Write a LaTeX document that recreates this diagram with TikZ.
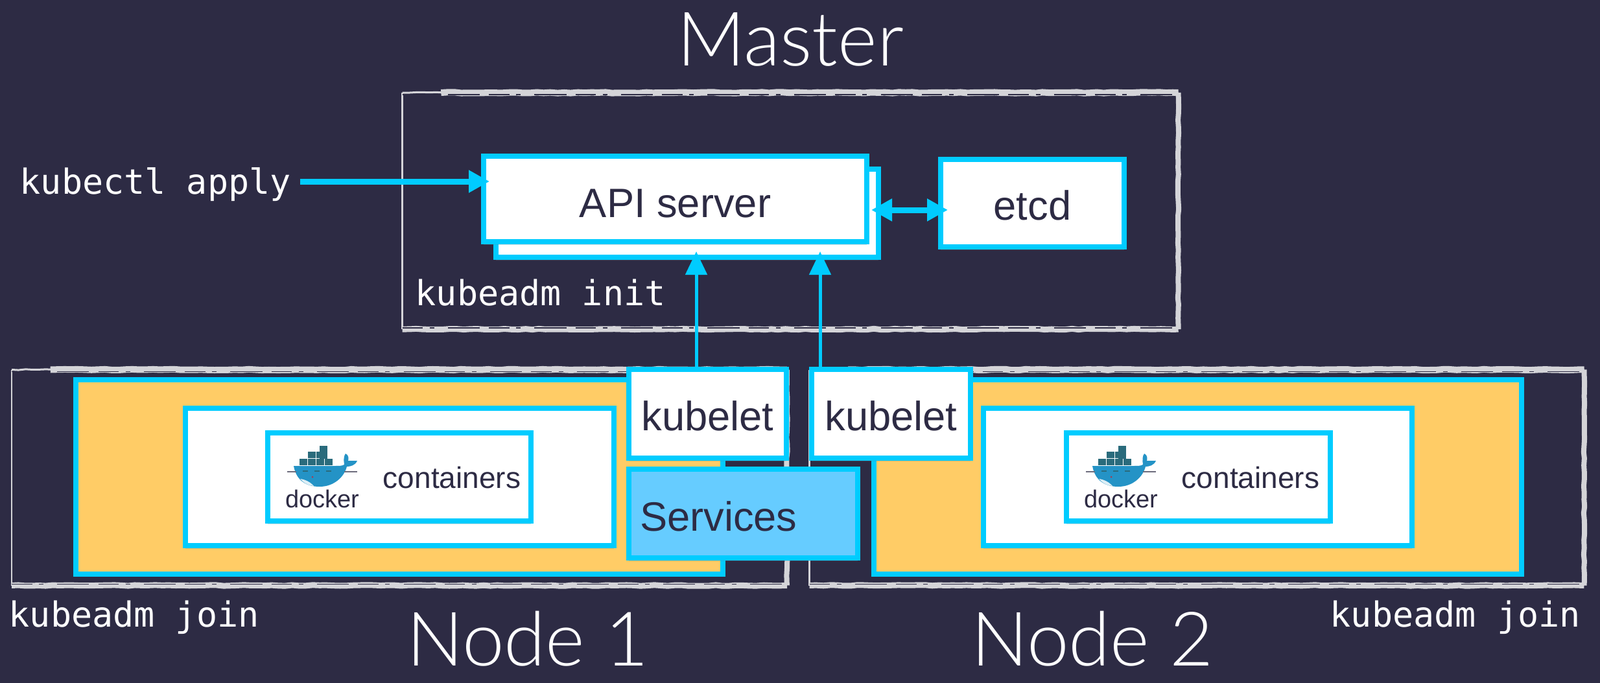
\documentclass[tikz,border=0pt]{standalone}
\usepackage{fontspec}
\setmainfont{Liberation Sans}
\setmonofont{DejaVu Sans Mono}
\newfontfamily\titlefont{Lato Light}
\usetikzlibrary{arrows.meta,shadows,calc,decorations.pathmorphing}
\definecolor{kubebg}{HTML}{2D2B44}
\definecolor{kubeline}{HTML}{00CCFF}
\definecolor{kubeyellow}{HTML}{FFCC66}
\definecolor{kubesky}{HTML}{66CCFF}
\definecolor{chalk}{HTML}{D4D4D8}
\definecolor{dockerteal}{HTML}{2A6B7C}
\definecolor{dockerblue}{HTML}{2493C6}
\tikzset{
  kubebox/.style={draw=kubeline,line width=.08cm,fill=white,text=kubebg,font=\fontsize{18}{18}\selectfont,
    inner sep=0pt,text height=.52cm,drop shadow={shadow xshift=0cm,shadow yshift=-.05cm,opacity=.25}},
  flatbox/.style={draw=kubeline,line width=.08cm,fill=kubeyellow,inner sep=0pt},
  chalkframe/.style={inner sep=0pt,outer sep=0pt},
  chalkline/.style={draw=chalk,decorate,decoration={random steps,segment length=3pt,amplitude=.2pt}},
  chalkscratch/.style={draw=kubebg,line width=.012cm,dash pattern=on 9pt off 3pt on 2pt off 6pt on 14pt off 4pt},
  kubearrow/.style={-{Triangle[length=.32cm,width=.33cm]},draw=kubeline,line width=.09cm},
  kubelink/.style={-{Triangle[length=.36cm,width=.33cm]},draw=kubeline,line width=.05cm},
  monotxt/.style={text=white,font=\ttfamily\fontsize{15.2}{15}\selectfont,inner sep=0pt,anchor=base west},
  titletxt/.style={text=white,font=\titlefont\fontsize{33}{33}\selectfont,inner sep=0pt,anchor=base},
}
\newcommand{\chalkbox}[5]{
\node[chalkframe,minimum width=#4cm,minimum height=#5cm] (#1) at (#2,#3) {};
\draw[chalkline,line width=.03cm] (#1.north west) -- (#1.north east);
\draw[chalkline,line width=.1cm] ($(#1.north west)!.05!(#1.north east)$) -- (#1.north east);
\draw[chalkline,line width=.09cm] (#1.south west) -- (#1.south east);
\draw[chalkline,line width=.08cm] (#1.north east) -- (#1.south east);
\draw[draw=chalk,line width=.025cm] (#1.north west) -- (#1.south west);
\draw[chalkscratch] ($(#1.north west)+(0,.03)$) -- ($(#1.north east)+(0,.03)$);
\draw[chalkscratch] ($(#1.south west)+(0,-.02)$) -- ($(#1.south east)+(0,-.02)$);
}
\newcommand{\dockerlogo}[3]{
\begin{scope}[shift={(#2,#3)}]
\foreach \x in {.19,.32,.45,.58} \fill[dockerteal] (\x,-.20) rectangle +(.12,.10);
\foreach \x in {.32,.45} \fill[dockerteal] (\x,-.31) rectangle +(.12,.10);
\fill[dockerteal] (.50,-.40) rectangle +(.12,.20);
\fill[dockerblue] (.10,-.09) -- (.74,-.09) .. controls (.80,-.09) and (.85,-.09) .. (.88,-.11)
  .. controls (.87,-.18) and (.87,-.24) .. (.90,-.28) .. controls (.95,-.26) and (.95,-.20) .. (.94,-.17)
  -- (1.08,-.17) .. controls (1.05,-.10) and (.98,-.08) .. (.92,-.08)
  .. controls (.88,.08) and (.72,.23) .. (.50,.23) .. controls (.30,.23) and (.14,.14) .. (.10,-.09) -- cycle;
\fill[white!85!dockerblue] (.20,.11) .. controls (.28,.12) and (.36,.16) .. (.41,.22) .. controls (.32,.21) and (.25,.17) .. (.20,.11) -- cycle;
\fill[red!60!dockerblue] (.39,.08) circle (.015);
\draw[kubebg!70,line width=.012cm] (0,0) -- (.14,0);
\draw[kubebg!70,line width=.012cm] (.88,0) -- (1.08,0);
\foreach \x in {.24,.42,.60} \draw[dockerteal,line width=.025cm] (\x,-.01) -- +(.08,0);
\node[inner sep=0pt,anchor=base,text=kubebg,font=\fontsize{10.8}{11}\selectfont] (#1) at (.54,.55) {docker};
\end{scope}
}

\begin{document}
\begin{tikzpicture}[x=1cm,y=-1cm]
\fill[kubebg] (0,0) rectangle (24.68,10.54);

% frames
\chalkbox{master}{12.19}{3.255}{11.97}{3.65}
\chalkbox{nodea}{6.16}{7.37}{11.96}{3.33}
\chalkbox{nodeb}{18.46}{7.37}{11.95}{3.33}

% worker nodes
\node[flatbox,minimum width=9.98cm,minimum height=3cm] (yellowa) at (6.16,7.36) {};
\node[flatbox,minimum width=9.99cm,minimum height=3cm] (yellowb) at (18.475,7.36) {};
\node[kubebox,minimum width=6.61cm,minimum height=2.12cm] (mida) at (6.165,7.36) {};
\node[kubebox,minimum width=6.61cm,minimum height=2.12cm] (midb) at (18.475,7.36) {};
\node[kubebox,minimum width=4.06cm,minimum height=1.36cm] (innera) at (6.16,7.36) {};
\node[kubebox,minimum width=4.07cm,minimum height=1.36cm] (innerb) at (18.485,7.36) {};
\dockerlogo{dockera}{4.43}{7.28}
\dockerlogo{dockerb}{16.75}{7.28}
\node[inner sep=0pt,anchor=base,text=kubebg,font=\fontsize{13.1}{14}\selectfont] (conta) at (6.97,7.53) {containers};
\node[inner sep=0pt,anchor=base,text=kubebg,font=\fontsize{13.1}{14}\selectfont] (contb) at (19.29,7.53) {containers};

\node[kubebox,minimum width=2.43cm,minimum height=1.37cm] (kubeleta) at (10.915,6.385) {kubelet};
\node[kubebox,minimum width=2.45cm,minimum height=1.37cm] (kubeletb) at (13.745,6.385) {kubelet};
\node[kubebox,fill=kubesky,text height=.55cm,minimum height=1.37cm,text width=3.19cm,align=left,inner xsep=.17cm] (services) at (11.465,7.925) {Services};

% master
\node[kubebox,minimum width=5.9cm,minimum height=1.36cm] (apiback) at (10.6,3.29) {};
\node[kubebox,text height=.57cm,minimum width=5.91cm,minimum height=1.32cm] (api) at (10.415,3.07) {API server};
\node[kubebox,minimum width=2.83cm,minimum height=1.35cm] (etcd) at (15.925,3.135) {etcd};

% texts
\node[titletxt] (mastertxt) at (12.19,1.02) {Master};
\node[titletxt] (nodeatxt) at (8.14,10.27) {Node 1};
\node[titletxt] (nodebtxt) at (16.85,10.27) {Node 2};
\node[monotxt] (apply) at (.30,3.0) {kubectl apply};
\node[monotxt] (init) at (6.40,4.71) {kubeadm init};
\node[monotxt] (joina) at (.13,9.67) {kubeadm join};
\node[monotxt] (joinb) at (20.51,9.67) {kubeadm join};

% arrows
\coordinate (ptapply) at (7.55,2.80);
\coordinate (pta) at (10.74,3.88);
\coordinate (ptb) at (12.65,3.88);
\draw[kubearrow] (apply.east |- ptapply) ++(.13,0) -- (ptapply);
\draw[kubelink] (pta |- kubeleta.north) -- (pta);
\draw[kubelink] (ptb |- kubeletb.north) -- (ptb);
\draw[kubearrow,{Triangle[length=.32cm,width=.33cm]}-{Triangle[length=.32cm,width=.33cm]}] (13.44,3.24) -- (14.62,3.24);

\end{tikzpicture}
\end{document}
